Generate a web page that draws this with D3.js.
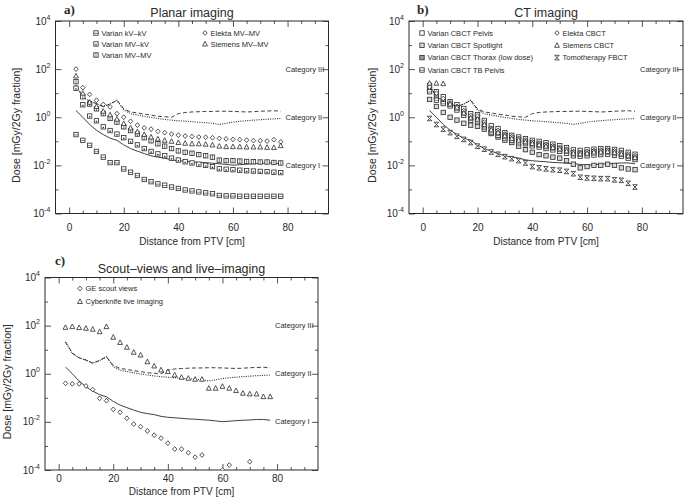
<!DOCTYPE html>
<html>
<head>
<meta charset="utf-8">
<script src="https://cdn.jsdelivr.net/npm/d3@7"></script>
<style>
body { margin: 0; background: #fff; }
svg text { font-family: "Liberation Sans", Arial, sans-serif; fill: #2a2a2a; }
</style>
</head>
<body>
<div id="chart"></div>
<script>
// Out-of-field dose vs distance from PTV, three imaging groups.
// Doses in mGy per 2 Gy fraction.

var distances = [2.5, 5, 7.5, 10, 12.5, 15, 17.5, 20, 22.5, 25, 27.5, 30, 32.5, 35, 37.5, 40,
                 42.5, 45, 47.5, 50, 52.5, 55, 57.5, 60, 62.5, 65, 67.5, 70, 72.5, 75, 77.5];

// reference curves drawn in every panel
var refSolid = [1.9, 1.0, 0.5, 0.29, 0.19, 0.135, 0.11, 0.071, 0.05, 0.039, 0.031, 0.025, 0.022, 0.02, 0.017, 0.0155,
                0.0148, 0.0141, 0.0132, 0.0129, 0.0123, 0.0117, 0.011, 0.0102, 0.0107, 0.0112, 0.0117, 0.012, 0.0126, 0.0126, 0.0117];
var refDashed = [21, 7.1, 4.6, 3.7, 2.75, 3.55, 5.1, 2.24, 1.66, 1.51, 1.35, 1.23, 1.1, 1.05, 1.0, 1.41,
                 1.58, 1.66, 1.7, 1.74, 1.74, 1.78, 1.78, 1.74, 1.7, 1.66, 1.7, 1.78, 1.82, 1.86, 1.78];
var refDotted = [21, 7.1, 4.6, 3.7, 2.75, 3.55, 5.1, 2.0, 1.41, 1.23, 1.1, 0.98, 0.89, 0.81, 0.76, 0.71,
                 0.69, 0.65, 0.62, 0.59, 0.56, 0.5, 0.56, 0.63, 0.68, 0.72, 0.76, 0.79, 0.83, 0.85, 0.89];

// a) planar imaging
var varianKvKv = [0.19, 0.11, 0.068, 0.038, 0.022, 0.013, 0.013, 0.0071, 0.0052, 0.0038, 0.0026, 0.0021, 0.0017, 0.0015, 0.00126, 0.0011,
                  0.00095, 0.00087, 0.00079, 0.00072, 0.00066, 0.00056, 0.00054, 0.00054, 0.00052, 0.00052, 0.00052, 0.00052, 0.00052, 0.00052, 0.00052];
var varianMvKv = [16, 3.3, 1.12, 0.71, 0.4, 0.28, 0.2, 0.141, 0.1, 0.071, 0.05, 0.038, 0.03, 0.025, 0.02, 0.0166,
                  0.0141, 0.0126, 0.0112, 0.01, 0.0089, 0.0072, 0.0069, 0.0066, 0.0063, 0.006, 0.0058, 0.0056, 0.0055, 0.0052, 0.005];
var varianMvMv = [30, 7.1, 3.55, 2.24, 1.41, 0.89, 0.63, 0.4, 0.28, 0.2, 0.141, 0.105, 0.079, 0.063, 0.05, 0.04,
                  0.035, 0.032, 0.028, 0.025, 0.022, 0.0166, 0.0158, 0.0158, 0.0151, 0.0145, 0.0141, 0.0138, 0.0138, 0.0132, 0.0126];
var elektaMvMv = [100, 17, 8.9, 5.1, 3.4, 2.7, 1.41, 1.0, 0.68, 0.47, 0.36, 0.32, 0.26, 0.23, 0.2, 0.18,
                  0.166, 0.158, 0.151, 0.148, 0.141, 0.132, 0.126, 0.12, 0.117, 0.112, 0.107, 0.105, 0.102, 0.117, 0.095];
var siemensMvMv = [52, 10, 4.2, 2.8, 1.78, 1.26, 0.83, 0.55, 0.36, 0.25, 0.19, 0.151, 0.126, 0.11, 0.1, 0.089,
                   0.083, 0.079, 0.079, 0.076, 0.071, 0.063, 0.06, 0.06, 0.059, 0.058, 0.058, 0.058, 0.056, 0.055, 0.066];

// b) CT imaging
var cbctPelvis = [21, 11.5, 7.1, 4.4, 3.3, 2.3, 1.41, 1.29, 0.74, 0.44, 0.34, 0.23, 0.178, 0.151, 0.129, 0.11,
                  0.1, 0.087, 0.076, 0.066, 0.055, 0.044, 0.042, 0.044, 0.047, 0.049, 0.05, 0.046, 0.042, 0.035, 0.029];
var cbctSpotlight = [5.5, 2.8, 1.58, 1.0, 0.76, 0.56, 0.47, 0.42, 0.32, 0.21, 0.151, 0.112, 0.089, 0.063, 0.045, 0.035,
                     0.028, 0.025, 0.022, 0.02, 0.0158, 0.0112, 0.0079, 0.0089, 0.01, 0.01, 0.0112, 0.01, 0.0079, 0.0071, 0.0066];
var cbctThorax = [14, 7.1, 4.7, 3.4, 2.45, 1.66, 1.02, 0.93, 0.55, 0.32, 0.25, 0.178, 0.138, 0.12, 0.1, 0.087,
                  0.076, 0.068, 0.059, 0.05, 0.042, 0.033, 0.032, 0.034, 0.036, 0.038, 0.04, 0.035, 0.032, 0.026, 0.022];
var cbctTbPelvis = [11.5, 5.1, 3.7, 2.95, 2.0, 1.2, 0.74, 0.65, 0.4, 0.23, 0.178, 0.138, 0.11, 0.087, 0.079, 0.065,
                    0.058, 0.05, 0.044, 0.038, 0.032, 0.025, 0.024, 0.025, 0.027, 0.028, 0.029, 0.026, 0.024, 0.02, 0.0174];
var elektaCbct = [18, 10, 6.0, 4.0, 2.8, 1.9, 1.2, 1.12, 0.63, 0.35, 0.28, 0.2, 0.158, 0.132, 0.112, 0.095,
                  0.085, 0.074, 0.065, 0.056, 0.047, 0.037, 0.035, 0.038, 0.041, 0.043, 0.044, 0.04, 0.035, 0.03, 0.025];
var siemensCbct = [26, 26, 25, 3.55, 2.6, 1.51, 0.95, 0.83, 0.5, 0.3, 0.23, 0.17, 0.132, 0.112, 0.095, 0.081,
                   0.072, 0.063, 0.055, 0.048, 0.04, 0.032, 0.03, 0.032, 0.036, 0.036, 0.038, 0.034, 0.03, 0.025, 0.021];
var tomoFbct = [0.89, 0.5, 0.32, 0.23, 0.162, 0.12, 0.089, 0.063, 0.047, 0.036, 0.029, 0.023, 0.019, 0.0158, 0.0126, 0.0089,
                0.0079, 0.0072, 0.0066, 0.0063, 0.0056, 0.0045, 0.0032, 0.003, 0.0029, 0.0028, 0.0028, 0.0025, 0.0024, 0.0018, 0.00126];

// c) scout views and live imaging
var geScoutDist = [2.5, 5, 7.5, 10, 12.5, 15, 17.5, 20, 22.5, 25, 27.5, 30, 32.5, 35, 37.5, 40,
                   42.5, 45, 47.5, 50, 52.5, 60, 62.5, 70];
var geScout = [0.4, 0.38, 0.38, 0.31, 0.22, 0.095, 0.076, 0.033, 0.025, 0.0141, 0.0081, 0.0063, 0.0042, 0.0028, 0.0021, 0.0013,
               0.00074, 0.00074, 0.00052, 0.00034, 0.00042, 0.0001, 0.00016, 0.00022];
var cyberknife = [85, 91, 83, 78, 71, 56, 91, 33, 20, 12.6, 7.8, 6.0, 3.16, 2.1, 1.45, 1.23,
                  0.89, 0.71, 0.65, 0.59, 0.59, 0.25, 0.25, 0.3, 0.25, 0.2, 0.155, 0.145, 0.145, 0.112, 0.112];

var xMajorTicks = [0, 20, 40, 60, 80];
var xMinorTicks = [5, 10, 15, 25, 30, 35, 45, 50, 55, 65, 70, 75, 85, 90];
var yMajorExps = [-4, -2, 0, 2, 4];
var yMinorExps = [-3, -1, 1, 3];
var categoryNames = ["Category III", "Category II", "Category I"];
var categoryDoses = [1e2, 1e0, 1e-2];

var INK = "#2a2a2a";

var svg = d3.select("#chart").append("svg")
    .attr("width", 685)
    .attr("height", 497)
    .style("background-color", "white");

/**
  * Draws one marker glyph centred on (cx, cy).
  */
function marker(g, type, cx, cy){
    var m = g.append("g").attr("transform", "translate(" + cx + "," + cy + ")");
    var s = 2.2;
    if (type.indexOf("sq") == 0){
        var fill = "white";
        if (type == "sqGray") fill = "#9a9a9a";
        if (type == "sqLight") fill = "#d6d6d6";
        m.append("rect").attr("x", -s).attr("y", -s).attr("width", 2 * s).attr("height", 2 * s)
            .attr("fill", fill).attr("stroke", INK).attr("stroke-width", 0.8);
        if (type == "sqH") m.append("line").attr("x1", -s).attr("x2", s).attr("y1", 0.3).attr("y2", 0.3)
            .attr("stroke", INK).attr("stroke-width", 0.6);
        if (type == "sqV") m.append("line").attr("x1", 0).attr("x2", 0).attr("y1", -s).attr("y2", s)
            .attr("stroke", INK).attr("stroke-width", 0.6);
        if (type == "sqDot") m.append("rect").attr("x", -0.7).attr("y", 0).attr("width", 1.4).attr("height", 1.4)
            .attr("fill", INK);
    }
    else if (type == "diamond"){
        m.append("path").attr("d", "M0,-2.4L2.2,0L0,2.4L-2.2,0Z")
            .attr("fill", "white").attr("stroke", INK).attr("stroke-width", 0.8);
    }
    else if (type == "tri"){
        m.append("path").attr("d", "M0,-2.6L2.4,2L-2.4,2Z")
            .attr("fill", "white").attr("stroke", INK).attr("stroke-width", 0.8);
    }
    else if (type == "hourglass"){
        m.append("path").attr("d", "M-2.3,-2.3L2.3,-2.3L-2.3,2.3L2.3,2.3Z")
            .attr("fill", "white").attr("stroke", INK).attr("stroke-width", 0.8);
    }
}

/**
  * Draws a complete panel: frame, axes, reference curves, data markers and legend.
  */
function drawPanel(p){
    var x = d3.scaleLinear().domain([-5, 95]).range([p.left, p.left + p.w]);
    var y = d3.scaleLog().domain([1e-4, 1e4]).range([p.top + p.h, p.top]);
    var g = svg.append("g");

    // ticks, pointing inward on all four sides
    function ticks(axis, tr){
        var a = g.append("g").attr("transform", tr).call(axis);
        a.select(".domain").remove();
        a.selectAll("line").attr("stroke", INK).attr("stroke-width", 0.8);
        return a;
    }
    var bx = "translate(0," + (p.top + p.h) + ")";
    var tx = "translate(0," + p.top + ")";
    var lx = "translate(" + p.left + ",0)";
    var rx = "translate(" + (p.left + p.w) + ",0)";
    var xAx = ticks(d3.axisBottom(x).tickValues(xMajorTicks).tickSize(-6).tickPadding(p.xPad), bx);
    xAx.selectAll("text").attr("font-size", 10).attr("fill", INK);
    ticks(d3.axisBottom(x).tickValues(xMinorTicks).tickSize(-3).tickFormat(""), bx);
    ticks(d3.axisTop(x).tickValues(xMajorTicks).tickSize(-6).tickFormat(""), tx);
    ticks(d3.axisTop(x).tickValues(xMinorTicks).tickSize(-3).tickFormat(""), tx);
    var yMaj = yMajorExps.map(function(e){ return Math.pow(10, e); });
    var yMin = yMinorExps.map(function(e){ return Math.pow(10, e); });
    ticks(d3.axisLeft(y).tickValues(yMaj).tickSize(-6).tickFormat(""), lx);
    ticks(d3.axisLeft(y).tickValues(yMin).tickSize(-3).tickFormat(""), lx);
    ticks(d3.axisRight(y).tickValues(yMaj).tickSize(-6).tickFormat(""), rx);
    ticks(d3.axisRight(y).tickValues(yMin).tickSize(-3).tickFormat(""), rx);

    g.append("rect").attr("x", p.left).attr("y", p.top).attr("width", p.w).attr("height", p.h)
        .attr("fill", "none").attr("stroke", INK).attr("stroke-width", 1);

    // y tick labels as 10 with a raised exponent
    yMajorExps.forEach(function(e){
        var t = g.append("text").attr("x", p.left - 5).attr("y", y(Math.pow(10, e)) + 3.5)
            .attr("text-anchor", "end").attr("font-size", 10).attr("fill", INK);
        t.append("tspan").text("10");
        t.append("tspan").attr("dy", -5).attr("font-size", 7).text(e < 0 ? "-" + (-e) : e);
    });

    // axis titles, panel title and tag
    g.append("text").attr("x", p.left + p.w / 2).attr("y", p.xTitleY).attr("text-anchor", "middle")
        .attr("font-size", 10).attr("fill", INK).text("Distance from PTV [cm]");
    g.append("text").attr("transform", "translate(" + p.yTitleX + "," + (p.top + p.h / 2 + 8) + ") rotate(-90)")
        .attr("text-anchor", "middle").attr("font-size", 10.5).attr("fill", INK).text("Dose [mGy/2Gy fraction]");
    g.append("text").attr("x", p.left + p.w / 2).attr("y", p.top - 4.5).attr("text-anchor", "middle")
        .attr("font-size", 12.5).attr("fill", INK).text(p.title);
    g.append("text").attr("x", p.tagX).attr("y", p.tagY).attr("font-size", 13).attr("font-weight", "bold")
        .attr("fill", "#111")
        .style("font-family", "'Liberation Serif', 'Times New Roman', serif").text(p.tag);

    // category labels on the right
    categoryNames.forEach(function(c, i){
        g.append("text").attr("x", p.left + p.w - 43).attr("y", y(categoryDoses[i]) + 2.5)
            .attr("font-size", 7.5).attr("fill", INK).text(c);
    });

    var clipId = "clip" + p.tag.charAt(0);
    svg.append("clipPath").attr("id", clipId).append("rect")
        .attr("x", p.left).attr("y", p.top).attr("width", p.w).attr("height", p.h);
    var plot = g.append("g").attr("clip-path", "url(#" + clipId + ")");

    var line = d3.line().x(function(d){ return x(d[0]); }).y(function(d){ return y(d[1]); });
    function ref(vals, dash, width){
        plot.append("path").datum(d3.zip(distances, vals)).attr("d", line)
            .attr("fill", "none").attr("stroke", INK).attr("stroke-width", width)
            .attr("stroke-dasharray", dash);
    }
    ref(refDashed, "4,2.5", 0.9);
    ref(refDotted, "1,1.3", 1.1);
    ref(refSolid, null, 0.9);

    p.series.forEach(function(s){
        for (var i = 0; i < s.dose.length; i++){
            marker(plot, s.marker, x(s.dist[i]), y(s.dose[i]));
        }
    });

    // legend
    p.series.forEach(function(s){
        marker(g, s.marker, s.lx, s.ly);
        g.append("text").attr("x", s.lx + 5.5).attr("y", s.ly + 2.6).attr("font-size", 7.5)
            .attr("fill", INK).text(s.name);
    });
}

drawPanel({
    left: 55.5, top: 21, w: 273, h: 192.5, xPad: 10.5, xTitleY: 245, yTitleX: 19.5,
    title: "Planar imaging", tag: "a)", tagX: 64, tagY: 13.5,
    series: [
        {name: "Varian kV\u2013kV", dist: distances, dose: varianKvKv, marker: "sqH", lx: 96, ly: 33},
        {name: "Varian MV\u2013kV", dist: distances, dose: varianMvKv, marker: "sqDot", lx: 96, ly: 44},
        {name: "Varian MV\u2013MV", dist: distances, dose: varianMvMv, marker: "sqV", lx: 96, ly: 55},
        {name: "Elekta MV\u2013MV", dist: distances, dose: elektaMvMv, marker: "diamond", lx: 205, ly: 33},
        {name: "Siemens MV\u2013MV", dist: distances, dose: siemensMvMv, marker: "tri", lx: 205, ly: 44}
    ]
});

drawPanel({
    left: 409, top: 21, w: 274, h: 192.5, xPad: 10.5, xTitleY: 245, yTitleX: 375.5,
    title: "CT imaging", tag: "b)", tagX: 417, tagY: 13.5,
    series: [
        {name: "Varian CBCT Pelvis", dist: distances, dose: cbctPelvis, marker: "sq", lx: 422, ly: 33},
        {name: "Varian CBCT Spotlight", dist: distances, dose: cbctSpotlight, marker: "sqLight", lx: 422, ly: 45.3},
        {name: "Varian CBCT Thorax (low dose)", dist: distances, dose: cbctThorax, marker: "sqGray", lx: 422, ly: 57.6},
        {name: "Varian CBCT TB Pelvis", dist: distances, dose: cbctTbPelvis, marker: "sqH", lx: 422, ly: 70},
        {name: "Elekta CBCT", dist: distances, dose: elektaCbct, marker: "diamond", lx: 557, ly: 33},
        {name: "Siemens CBCT", dist: distances, dose: siemensCbct, marker: "tri", lx: 557, ly: 45.3},
        {name: "Tomotherapy FBCT", dist: distances, dose: tomoFbct, marker: "hourglass", lx: 557, ly: 57.6}
    ]
});

drawPanel({
    left: 45, top: 277.5, w: 273, h: 192.5, xPad: 4.5, xTitleY: 494.5, yTitleX: 11,
    title: "Scout\u2013views and live\u2013imaging", tag: "c)", tagX: 55, tagY: 265,
    series: [
        {name: "GE scout views", dist: geScoutDist, dose: geScout, marker: "diamond", lx: 80, ly: 288.5},
        {name: "Cyberknife live imaging", dist: distances, dose: cyberknife, marker: "tri", lx: 80, ly: 301.5}
    ]
});
</script>
</body>
</html>
